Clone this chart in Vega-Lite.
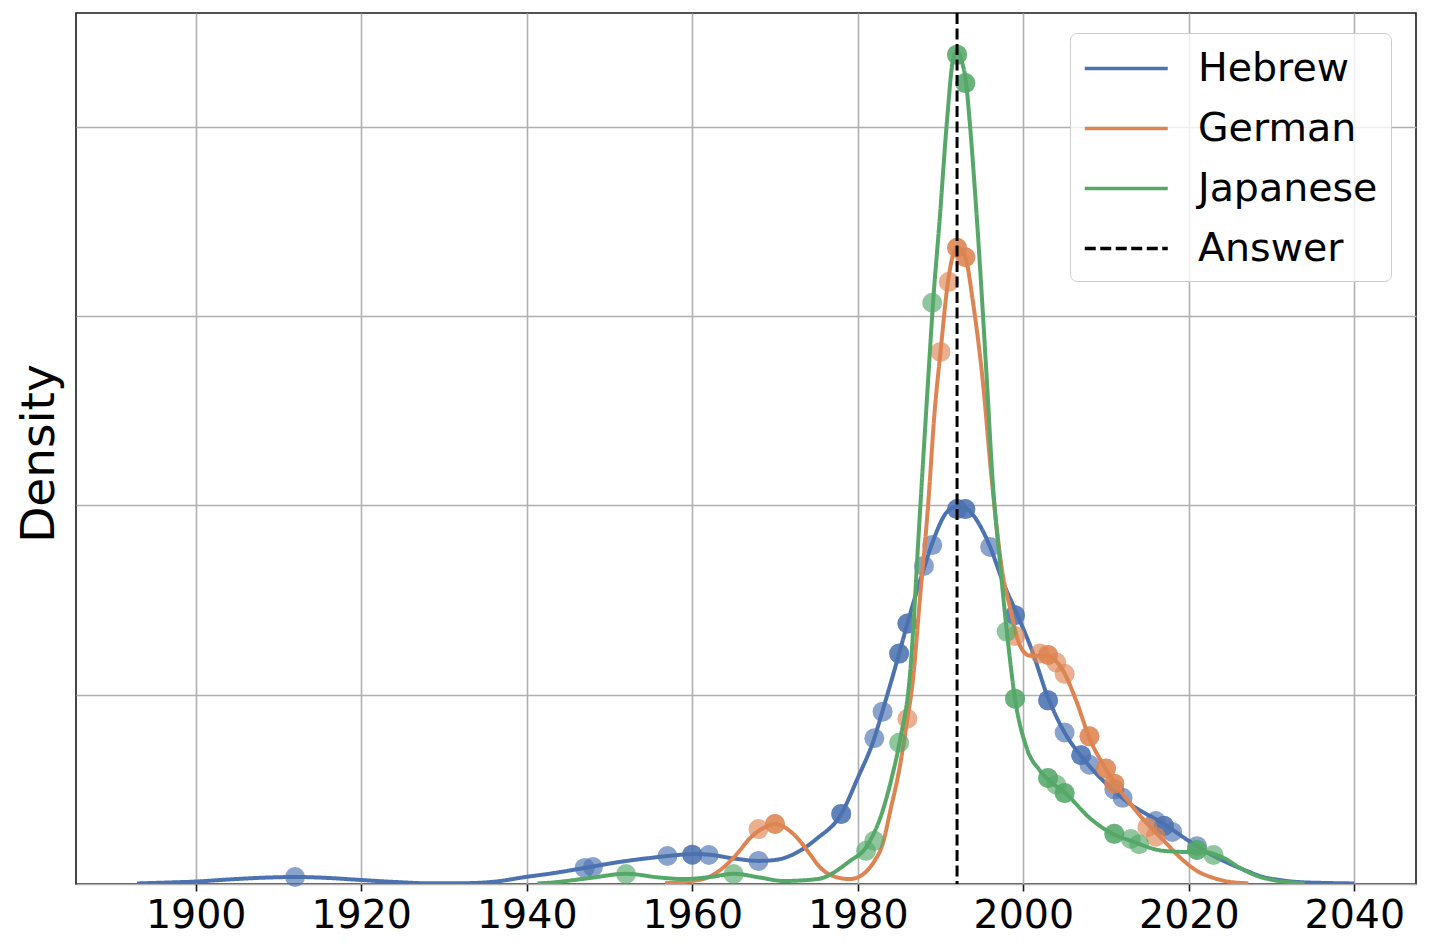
{
  "$schema": "https://vega.github.io/schema/vega-lite/v6.json",
  "width": 1340,
  "height": 871,
  "autosize": "none",
  "padding": {"left": 76, "top": 13, "right": 13, "bottom": 68},
  "background": "white",
  "config": {
    "font": "DejaVu Sans",
    "view": {"stroke": "#1a1a1a", "strokeWidth": 1.6}
  },
  "datasets": {
    "curves": [
      {"lang": "Hebrew", "year": 1892.9, "density": 0.003},
      {"lang": "Hebrew", "year": 1896, "density": 0.007},
      {"lang": "Hebrew", "year": 1900, "density": 0.013},
      {"lang": "Hebrew", "year": 1904, "density": 0.024},
      {"lang": "Hebrew", "year": 1908, "density": 0.033},
      {"lang": "Hebrew", "year": 1912, "density": 0.037},
      {"lang": "Hebrew", "year": 1916, "density": 0.032},
      {"lang": "Hebrew", "year": 1920, "density": 0.021},
      {"lang": "Hebrew", "year": 1924, "density": 0.011},
      {"lang": "Hebrew", "year": 1928, "density": 0.004},
      {"lang": "Hebrew", "year": 1932, "density": 0.004},
      {"lang": "Hebrew", "year": 1936, "density": 0.012},
      {"lang": "Hebrew", "year": 1940, "density": 0.038},
      {"lang": "Hebrew", "year": 1943, "density": 0.056},
      {"lang": "Hebrew", "year": 1947, "density": 0.085},
      {"lang": "Hebrew", "year": 1951, "density": 0.115},
      {"lang": "Hebrew", "year": 1955, "density": 0.138},
      {"lang": "Hebrew", "year": 1958, "density": 0.152},
      {"lang": "Hebrew", "year": 1960, "density": 0.158},
      {"lang": "Hebrew", "year": 1962, "density": 0.155},
      {"lang": "Hebrew", "year": 1965, "density": 0.135},
      {"lang": "Hebrew", "year": 1968, "density": 0.122},
      {"lang": "Hebrew", "year": 1970, "density": 0.127},
      {"lang": "Hebrew", "year": 1973, "density": 0.175},
      {"lang": "Hebrew", "year": 1975, "density": 0.238},
      {"lang": "Hebrew", "year": 1978, "density": 0.37},
      {"lang": "Hebrew", "year": 1980, "density": 0.56},
      {"lang": "Hebrew", "year": 1982, "density": 0.77},
      {"lang": "Hebrew", "year": 1983, "density": 0.915},
      {"lang": "Hebrew", "year": 1985, "density": 1.217},
      {"lang": "Hebrew", "year": 1986, "density": 1.376},
      {"lang": "Hebrew", "year": 1988, "density": 1.667},
      {"lang": "Hebrew", "year": 1989, "density": 1.8},
      {"lang": "Hebrew", "year": 1991, "density": 1.974},
      {"lang": "Hebrew", "year": 1992.3, "density": 1.995},
      {"lang": "Hebrew", "year": 1993.5, "density": 1.97},
      {"lang": "Hebrew", "year": 1994.4, "density": 1.92},
      {"lang": "Hebrew", "year": 1996, "density": 1.78},
      {"lang": "Hebrew", "year": 1997.5, "density": 1.6},
      {"lang": "Hebrew", "year": 1999.2, "density": 1.43},
      {"lang": "Hebrew", "year": 2001, "density": 1.24},
      {"lang": "Hebrew", "year": 2003, "density": 0.984},
      {"lang": "Hebrew", "year": 2005, "density": 0.8},
      {"lang": "Hebrew", "year": 2007, "density": 0.675},
      {"lang": "Hebrew", "year": 2009, "density": 0.575},
      {"lang": "Hebrew", "year": 2011, "density": 0.49},
      {"lang": "Hebrew", "year": 2013, "density": 0.42},
      {"lang": "Hebrew", "year": 2017, "density": 0.317},
      {"lang": "Hebrew", "year": 2020, "density": 0.228},
      {"lang": "Hebrew", "year": 2023, "density": 0.148},
      {"lang": "Hebrew", "year": 2025, "density": 0.106},
      {"lang": "Hebrew", "year": 2027, "density": 0.069},
      {"lang": "Hebrew", "year": 2029, "density": 0.037},
      {"lang": "Hebrew", "year": 2031, "density": 0.021},
      {"lang": "Hebrew", "year": 2033, "density": 0.011},
      {"lang": "Hebrew", "year": 2037, "density": 0.005},
      {"lang": "Hebrew", "year": 2040, "density": 0.003},
      {"lang": "German", "year": 1956.7, "density": 0.004},
      {"lang": "German", "year": 1960, "density": 0.016},
      {"lang": "German", "year": 1962, "density": 0.037},
      {"lang": "German", "year": 1963.7, "density": 0.085},
      {"lang": "German", "year": 1965.4, "density": 0.159},
      {"lang": "German", "year": 1967, "density": 0.243},
      {"lang": "German", "year": 1968.6, "density": 0.296},
      {"lang": "German", "year": 1970, "density": 0.317},
      {"lang": "German", "year": 1971.8, "density": 0.28},
      {"lang": "German", "year": 1973, "density": 0.228},
      {"lang": "German", "year": 1974.2, "density": 0.159},
      {"lang": "German", "year": 1975.4, "density": 0.09},
      {"lang": "German", "year": 1977, "density": 0.042},
      {"lang": "German", "year": 1979, "density": 0.026},
      {"lang": "German", "year": 1980, "density": 0.035},
      {"lang": "German", "year": 1981, "density": 0.065},
      {"lang": "German", "year": 1982, "density": 0.12},
      {"lang": "German", "year": 1983, "density": 0.21},
      {"lang": "German", "year": 1984, "density": 0.4},
      {"lang": "German", "year": 1985, "density": 0.6},
      {"lang": "German", "year": 1986, "density": 0.873},
      {"lang": "German", "year": 1986.6, "density": 1.05},
      {"lang": "German", "year": 1987.5, "density": 1.5},
      {"lang": "German", "year": 1988.5, "density": 2.0},
      {"lang": "German", "year": 1989.3, "density": 2.5},
      {"lang": "German", "year": 1990, "density": 2.81},
      {"lang": "German", "year": 1990.9, "density": 3.18},
      {"lang": "German", "year": 1991.5, "density": 3.32},
      {"lang": "German", "year": 1992, "density": 3.36},
      {"lang": "German", "year": 1993, "density": 3.31},
      {"lang": "German", "year": 1993.9, "density": 3.08},
      {"lang": "German", "year": 1995.1, "density": 2.66},
      {"lang": "German", "year": 1996.2, "density": 2.13},
      {"lang": "German", "year": 1997.5, "density": 1.64},
      {"lang": "German", "year": 1998.4, "density": 1.46},
      {"lang": "German", "year": 1999.6, "density": 1.26},
      {"lang": "German", "year": 2000.8, "density": 1.206},
      {"lang": "German", "year": 2002.8, "density": 1.206},
      {"lang": "German", "year": 2004.8, "density": 1.127},
      {"lang": "German", "year": 2006.4, "density": 0.968},
      {"lang": "German", "year": 2008, "density": 0.77},
      {"lang": "German", "year": 2010.1, "density": 0.6},
      {"lang": "German", "year": 2012, "density": 0.476},
      {"lang": "German", "year": 2013, "density": 0.42},
      {"lang": "German", "year": 2015, "density": 0.317},
      {"lang": "German", "year": 2017, "density": 0.228},
      {"lang": "German", "year": 2019, "density": 0.138},
      {"lang": "German", "year": 2021, "density": 0.069},
      {"lang": "German", "year": 2023, "density": 0.032},
      {"lang": "German", "year": 2025, "density": 0.011},
      {"lang": "German", "year": 2027.2, "density": 0.004},
      {"lang": "Japanese", "year": 1941.3, "density": 0.003},
      {"lang": "Japanese", "year": 1942.8, "density": 0.007},
      {"lang": "Japanese", "year": 1947.7, "density": 0.032},
      {"lang": "Japanese", "year": 1952, "density": 0.054},
      {"lang": "Japanese", "year": 1956.1, "density": 0.034},
      {"lang": "Japanese", "year": 1958.9, "density": 0.026},
      {"lang": "Japanese", "year": 1962.2, "density": 0.037},
      {"lang": "Japanese", "year": 1965, "density": 0.054},
      {"lang": "Japanese", "year": 1968.2, "density": 0.034},
      {"lang": "Japanese", "year": 1971, "density": 0.016},
      {"lang": "Japanese", "year": 1975.1, "density": 0.026},
      {"lang": "Japanese", "year": 1979, "density": 0.12},
      {"lang": "Japanese", "year": 1981.1, "density": 0.2},
      {"lang": "Japanese", "year": 1983, "density": 0.386},
      {"lang": "Japanese", "year": 1984.1, "density": 0.56},
      {"lang": "Japanese", "year": 1985.1, "density": 0.76},
      {"lang": "Japanese", "year": 1986.3, "density": 1.1},
      {"lang": "Japanese", "year": 1987.5, "density": 1.95},
      {"lang": "Japanese", "year": 1988.5, "density": 2.66},
      {"lang": "Japanese", "year": 1989.1, "density": 3.07},
      {"lang": "Japanese", "year": 1989.9, "density": 3.51},
      {"lang": "Japanese", "year": 1990.8, "density": 4.04},
      {"lang": "Japanese", "year": 1991.5, "density": 4.35},
      {"lang": "Japanese", "year": 1992, "density": 4.4},
      {"lang": "Japanese", "year": 1992.6, "density": 4.34},
      {"lang": "Japanese", "year": 1993.1, "density": 4.23},
      {"lang": "Japanese", "year": 1993.5, "density": 4.04},
      {"lang": "Japanese", "year": 1994.4, "density": 3.51},
      {"lang": "Japanese", "year": 1995.6, "density": 2.66},
      {"lang": "Japanese", "year": 1996.3, "density": 2.13},
      {"lang": "Japanese", "year": 1997.2, "density": 1.69},
      {"lang": "Japanese", "year": 1998, "density": 1.34},
      {"lang": "Japanese", "year": 1999, "density": 0.98},
      {"lang": "Japanese", "year": 2000.4, "density": 0.72},
      {"lang": "Japanese", "year": 2002, "density": 0.6},
      {"lang": "Japanese", "year": 2002.9, "density": 0.556},
      {"lang": "Japanese", "year": 2005.2, "density": 0.476},
      {"lang": "Japanese", "year": 2008, "density": 0.35},
      {"lang": "Japanese", "year": 2010.8, "density": 0.265},
      {"lang": "Japanese", "year": 2013, "density": 0.228},
      {"lang": "Japanese", "year": 2017, "density": 0.175},
      {"lang": "Japanese", "year": 2020, "density": 0.169},
      {"lang": "Japanese", "year": 2021.7, "density": 0.169},
      {"lang": "Japanese", "year": 2024.2, "density": 0.138},
      {"lang": "Japanese", "year": 2026.2, "density": 0.085},
      {"lang": "Japanese", "year": 2028.3, "density": 0.042},
      {"lang": "Japanese", "year": 2030.2, "density": 0.021},
      {"lang": "Japanese", "year": 2034, "density": 0.004}
    ],
    "points": [
      {"lang": "Hebrew", "year": 1912, "density": 0.037},
      {"lang": "Hebrew", "year": 1947, "density": 0.085},
      {"lang": "Hebrew", "year": 1948, "density": 0.09},
      {"lang": "Hebrew", "year": 1957, "density": 0.148},
      {"lang": "Hebrew", "year": 1960, "density": 0.155},
      {"lang": "Hebrew", "year": 1960, "density": 0.155},
      {"lang": "Hebrew", "year": 1962, "density": 0.153},
      {"lang": "Hebrew", "year": 1968, "density": 0.122},
      {"lang": "Hebrew", "year": 1978, "density": 0.37},
      {"lang": "Hebrew", "year": 1978, "density": 0.37},
      {"lang": "Hebrew", "year": 1982, "density": 0.77},
      {"lang": "Hebrew", "year": 1983, "density": 0.91},
      {"lang": "Hebrew", "year": 1985, "density": 1.217},
      {"lang": "Hebrew", "year": 1985, "density": 1.217},
      {"lang": "Hebrew", "year": 1986, "density": 1.376},
      {"lang": "Hebrew", "year": 1986, "density": 1.376},
      {"lang": "Hebrew", "year": 1988, "density": 1.68},
      {"lang": "Hebrew", "year": 1989, "density": 1.79},
      {"lang": "Hebrew", "year": 1992, "density": 1.98},
      {"lang": "Hebrew", "year": 1992, "density": 1.98},
      {"lang": "Hebrew", "year": 1993, "density": 1.98},
      {"lang": "Hebrew", "year": 1993, "density": 1.98},
      {"lang": "Hebrew", "year": 1996, "density": 1.78},
      {"lang": "Hebrew", "year": 1999, "density": 1.42},
      {"lang": "Hebrew", "year": 1999, "density": 1.42},
      {"lang": "Hebrew", "year": 2003, "density": 0.97},
      {"lang": "Hebrew", "year": 2003, "density": 0.97},
      {"lang": "Hebrew", "year": 2005, "density": 0.8},
      {"lang": "Hebrew", "year": 2007, "density": 0.68},
      {"lang": "Hebrew", "year": 2007, "density": 0.68},
      {"lang": "Hebrew", "year": 2008, "density": 0.63},
      {"lang": "Hebrew", "year": 2011, "density": 0.5},
      {"lang": "Hebrew", "year": 2012, "density": 0.455},
      {"lang": "Hebrew", "year": 2016, "density": 0.333},
      {"lang": "Hebrew", "year": 2017, "density": 0.307},
      {"lang": "Hebrew", "year": 2017, "density": 0.307},
      {"lang": "Hebrew", "year": 2018, "density": 0.275},
      {"lang": "Hebrew", "year": 2021, "density": 0.2},
      {"lang": "German", "year": 1968, "density": 0.29},
      {"lang": "German", "year": 1970, "density": 0.317},
      {"lang": "German", "year": 1970, "density": 0.317},
      {"lang": "German", "year": 1986, "density": 0.873},
      {"lang": "German", "year": 1990, "density": 2.81},
      {"lang": "German", "year": 1991, "density": 3.18},
      {"lang": "German", "year": 1992, "density": 3.36},
      {"lang": "German", "year": 1992, "density": 3.36},
      {"lang": "German", "year": 1993, "density": 3.31},
      {"lang": "German", "year": 1993, "density": 3.31},
      {"lang": "German", "year": 1999, "density": 1.31},
      {"lang": "German", "year": 2002, "density": 1.217},
      {"lang": "German", "year": 2003, "density": 1.21},
      {"lang": "German", "year": 2003, "density": 1.21},
      {"lang": "German", "year": 2004, "density": 1.17},
      {"lang": "German", "year": 2005, "density": 1.11},
      {"lang": "German", "year": 2008, "density": 0.78},
      {"lang": "German", "year": 2008, "density": 0.78},
      {"lang": "German", "year": 2010, "density": 0.61},
      {"lang": "German", "year": 2010, "density": 0.61},
      {"lang": "German", "year": 2011, "density": 0.53},
      {"lang": "German", "year": 2011, "density": 0.53},
      {"lang": "German", "year": 2015, "density": 0.3},
      {"lang": "German", "year": 2016, "density": 0.25},
      {"lang": "Japanese", "year": 1952, "density": 0.053},
      {"lang": "Japanese", "year": 1965, "density": 0.053},
      {"lang": "Japanese", "year": 1981, "density": 0.175},
      {"lang": "Japanese", "year": 1982, "density": 0.228},
      {"lang": "Japanese", "year": 1985, "density": 0.746},
      {"lang": "Japanese", "year": 1989, "density": 3.07},
      {"lang": "Japanese", "year": 1992, "density": 4.38},
      {"lang": "Japanese", "year": 1992, "density": 4.38},
      {"lang": "Japanese", "year": 1993, "density": 4.23},
      {"lang": "Japanese", "year": 1993, "density": 4.23},
      {"lang": "Japanese", "year": 1998, "density": 1.333},
      {"lang": "Japanese", "year": 1999, "density": 0.979},
      {"lang": "Japanese", "year": 1999, "density": 0.979},
      {"lang": "Japanese", "year": 2003, "density": 0.56},
      {"lang": "Japanese", "year": 2003, "density": 0.56},
      {"lang": "Japanese", "year": 2004, "density": 0.524},
      {"lang": "Japanese", "year": 2005, "density": 0.48},
      {"lang": "Japanese", "year": 2005, "density": 0.48},
      {"lang": "Japanese", "year": 2011, "density": 0.265},
      {"lang": "Japanese", "year": 2011, "density": 0.265},
      {"lang": "Japanese", "year": 2013, "density": 0.238},
      {"lang": "Japanese", "year": 2014, "density": 0.21},
      {"lang": "Japanese", "year": 2021, "density": 0.18},
      {"lang": "Japanese", "year": 2021, "density": 0.18},
      {"lang": "Japanese", "year": 2023, "density": 0.153}
    ],
    "answer": [
      {"lang": "Answer", "year": 1992}
    ]
  },
  "layer": [
    {
      "data": {"name": "curves"},
      "transform": [{"filter": "datum.lang == 'Hebrew'"}],
      "mark": {"type": "line", "strokeWidth": 4, "interpolate": "monotone", "clip": true},
      "encoding": {
        "x": {"field": "year", "type": "quantitative",
          "scale": {"domain": [1885.53, 2047.46], "nice": false, "zero": false},
          "axis": {"values": [1900, 1920, 1940, 1960, 1980, 2000, 2020, 2040], "format": "d", "title": null,
            "grid": true, "gridColor": "#b0b0b0", "gridWidth": 1.6, "domain": false,
            "tickSize": 7, "tickColor": "#1a1a1a", "tickWidth": 1.6,
            "labelFontSize": 39.5, "labelFont": "DejaVu Sans", "labelColor": "black", "labelPadding": 5}},
        "y": {"field": "density", "type": "quantitative",
          "scale": {"domain": [0, 4.6], "nice": false, "zero": true},
          "axis": {"values": [0, 1, 2, 3, 4], "grid": true, "gridColor": "#b0b0b0", "gridWidth": 1.6,
            "labels": false, "ticks": false, "domain": false,
            "title": "Density", "titleFontSize": 47, "titleFont": "DejaVu Sans", "titleFontWeight": "normal",
            "titleColor": "black", "titleAngle": -90, "titleX": -23, "titleY": 440,
            "titleBaseline": "alphabetic", "titleAlign": "center"}},
        "color": {"field": "lang", "type": "nominal",
          "scale": {"domain": ["Hebrew", "German", "Japanese", "Answer"], "range": ["#4C72B0", "#DD8452", "#55A868", "#000000"]},
          "legend": {"title": null, "orient": "none", "legendX": 994, "legendY": 20,
            "symbolType": "M-1,0H3", "symbolSize": 1722, "symbolStrokeWidth": 3.5,
            "labelFontSize": 39.5, "labelFont": "DejaVu Sans", "labelColor": "black", "labelOffset": 70, "labelLimit": 500,
            "rowPadding": 18, "padding": 13, "fillColor": "rgba(255,255,255,0.8)", "strokeColor": "#cccccc", "cornerRadius": 7}},
        "strokeDash": {"field": "lang", "type": "nominal",
          "scale": {"domain": ["Hebrew", "German", "Japanese", "Answer"], "range": [[1, 0], [1, 0], [1, 0], [11, 4.5]]}}
      }
    },
    {
      "data": {"name": "points"},
      "transform": [{"filter": "datum.lang == 'Hebrew'"}],
      "mark": {"type": "circle", "size": 400, "opacity": 0.65, "color": "#4C72B0"},
      "encoding": {
        "x": {"field": "year", "type": "quantitative", "scale": {"domain": [1885.53, 2047.46], "nice": false, "zero": false}},
        "y": {"field": "density", "type": "quantitative", "scale": {"domain": [0, 4.6], "nice": false, "zero": true}}
      }
    },
    {
      "data": {"name": "curves"},
      "transform": [{"filter": "datum.lang == 'German'"}],
      "mark": {"type": "line", "strokeWidth": 4, "interpolate": "monotone", "clip": true},
      "encoding": {
        "x": {"field": "year", "type": "quantitative", "scale": {"domain": [1885.53, 2047.46], "nice": false, "zero": false}},
        "y": {"field": "density", "type": "quantitative", "scale": {"domain": [0, 4.6], "nice": false, "zero": true}},
        "color": {"field": "lang", "type": "nominal"},
        "strokeDash": {"field": "lang", "type": "nominal"}
      }
    },
    {
      "data": {"name": "points"},
      "transform": [{"filter": "datum.lang == 'German'"}],
      "mark": {"type": "circle", "size": 400, "opacity": 0.65, "color": "#DD8452"},
      "encoding": {
        "x": {"field": "year", "type": "quantitative", "scale": {"domain": [1885.53, 2047.46], "nice": false, "zero": false}},
        "y": {"field": "density", "type": "quantitative", "scale": {"domain": [0, 4.6], "nice": false, "zero": true}}
      }
    },
    {
      "data": {"name": "curves"},
      "transform": [{"filter": "datum.lang == 'Japanese'"}],
      "mark": {"type": "line", "strokeWidth": 4, "interpolate": "monotone", "clip": true},
      "encoding": {
        "x": {"field": "year", "type": "quantitative", "scale": {"domain": [1885.53, 2047.46], "nice": false, "zero": false}},
        "y": {"field": "density", "type": "quantitative", "scale": {"domain": [0, 4.6], "nice": false, "zero": true}},
        "color": {"field": "lang", "type": "nominal"},
        "strokeDash": {"field": "lang", "type": "nominal"}
      }
    },
    {
      "data": {"name": "points"},
      "transform": [{"filter": "datum.lang == 'Japanese'"}],
      "mark": {"type": "circle", "size": 400, "opacity": 0.65, "color": "#55A868"},
      "encoding": {
        "x": {"field": "year", "type": "quantitative", "scale": {"domain": [1885.53, 2047.46], "nice": false, "zero": false}},
        "y": {"field": "density", "type": "quantitative", "scale": {"domain": [0, 4.6], "nice": false, "zero": true}}
      }
    },
    {
      "data": {"name": "answer"},
      "mark": {"type": "rule", "strokeWidth": 3},
      "encoding": {
        "x": {"field": "year", "type": "quantitative", "scale": {"domain": [1885.53, 2047.46], "nice": false, "zero": false}},
        "color": {"field": "lang", "type": "nominal"},
        "strokeDash": {"field": "lang", "type": "nominal"}
      }
    }
  ]
}
